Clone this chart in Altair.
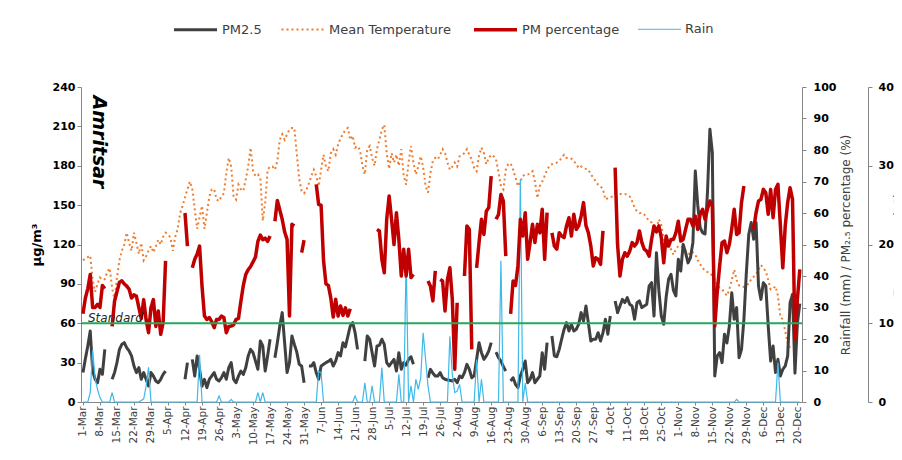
import altair as alt
import pandas as pd

FONT = "DejaVu Sans"

# ---- data (day 0 = 1-Mar, day 295 = 21-Dec); None = no data ----
pm25 = [
    22.4, 33, 42.7, 54.1, 24, 17.3, 14.7, 24.9, 21.1, 40.1,
    None, None, 17.3, 22.4, 30, 40, 43.9, 45.2, 41.4, 38.9,
    35.1, 27.4, 22.4, 26.2, 17.3, 22.4, 17.3, 12.2, 22.4, 19.8,
    16.0, 14.7, 17.3, 21.1, 23.6, None, None, None, None, None,
    None, None, 17.3, 30.0, None, 32.5, 19.8, 35.1, 24.9, 12,
    17.3, 10.9, 17.3, 19.8, 22.4, 17.3, 16, 18.5, 22.4, 17.3,
    26.2, 30, 17.3, 14.7, 19.8, 23.6, 21, 26.2, 35.1, 40.1,
    37.6, 31.2, 24.9, 46.5, 42.7, 23.6, 35, 47.8, None, 33.8,
    45.2, 57.9, 68.1, 45, 22.4, 30, 50.3, 43.9, 38, 28.7,
    27.4, 14.7, None, 27.4, 27.4, 30, 22.4, 17.3, 27.4, 28.7,
    30, 31, 32.5, 27.4, 31.2, 37.6, 35.1, 45.2, 42, 50,
    57.9, 60.5, 52.8, 40.1, None, None, 31.2, 50.3, 47.8, 37.6,
    27.4, 42.7, 43.2, 47.8, 43.9, 30.0, 27.4, 30, 32.5, 23.6,
    37.6, 24.9, 30, 28, 32.5, 34.5, 28.7, None, None, None,
    None, None, 18.5, 24.9, 22, 19.8, 19.8, 22.4, 18.5, 17.3,
    16.8, 16.5, 16.0, 17.3, 14.7, 19.8, 18.5, 22.4, 28.7, 24.9,
    18.5, 20, 32.5, 45.2, 37.6, 32.5, 35.1, 38.9, 45.2, None,
    38, 33.8, 31.2, 27, 23.6, None, 16, 18.5, 13.5, 10.9,
    19.8, 24.9, 31.2, 14.7, 17.3, 22.4, 14.7, 17.3, 19.8, 37.6,
    25, 45.2, None, 50.3, 35.1, 34.5, 40.1, 48, 55.4, 60.5,
    54.1, 59.2, 54.1, 55.4, 59.2, 68.1, 61.7, 73.2, 60, 46.5,
    47.8, 47.8, 52.8, 46.5, 52.8, 63, 51.6, 65.5, None, 77.0,
    68.1, 73.2, 78.2, 75.7, 79.5, 74.4, 73.2, 63.0, 75.7, 77.0,
    71.9, 73.2, 74.4, 88.4, 90.9, 65.5, 113.8, 85, 65.5, 59.2,
    80, 93.5, 97.3, 85, 80.8, 108.7, 99.8, 120.1, 113.8, 106,
    110, 121.4, 176, 150, 132.8, 129, 128, 159.5, 207.8, 190,
    19.8, 35, 37.6, 30, 51.6, 45, 57.9, 83.3, 63, 71.9,
    33.8, 40, 63, 98.6, 127.8, 136.7, 124, 136.7, 88.4, 78.2,
    90.9, 88.4, 57.9, 31.2, 42.7, 22.4, 32.5, 19.8, 24.9, 27.4,
    35.1, 75.7, 82, 22, 60, 75,
]

pm_pct = [
    28, 33, 36, 40.5, 30, 30, 31, 30, 37, 36,
    None, None, 24, 32, 35, 38, 38.5, 37.5, 36.8, 35.8,
    33, 34, 33.6, 30, 26.5, 32.5, 26, 22, 30, 32.5,
    24, 28.9, 21.5, 25.2, 44.8, None, None, None, None, None,
    None, None, 60, 49.5, None, 42.6, 45.3, 47, 49.5, 36.8,
    27.3, 26.2, 26.8, 25.5, 23.6, 26.2, 26.2, 27.3, 26.8, 22,
    24, 24.1, 24.5, 26.2, 26.5, 32, 37, 40.5, 42, 43,
    44.5, 46, 51, 53, 51.5, 52, 51, 52.7, None, 57.4,
    64, 61, 58, 54, 51.6, 27.3, 56.4, 55.9, None, None,
    47.4, 51.4, None, None, None, None, 69.1, 62.7, 62.5, 45,
    37.5, 37, 33, 27, 32.6, 27.3, 30.5, 27.5, 29.9, 27.3,
    29.6, None, None, None, None, None, None, None, None, None,
    None, 54.8, 54.3, 45.3, 41.0, 58.0, 65.4, 58.0, 50.0, 60.1,
    51.6, 40.0, 48.5, 40.0, 48.5, 39.5, 40.5, None, None, None,
    None, None, 38.4, 36.8, 32.1, 41.6, None, 38.9, 38.4, 28.9,
    38.9, 42.6, 32.6, 10.4, 31.5, None, None, 40.0, 55.9, 54.8,
    16.7, None, 42.6, 50.6, 58.0, 53.2, 60.6, 61.7, 71.7, None,
    58, 59.5, 65.9, 63.8, 46.3, None, 28, 38.4, 37, 43.2,
    58, 52.7, 60.1, 45.3, 50.6, 56.4, 50.6, 56.4, 53.7, 61.2,
    45.3, 60.1, None, 53.7, 49.5, 48.5, 53.7, 52.7, 52.2, 55.9,
    58.5, 52.7, 59.6, 54.8, 55.9, 59, 63.3, 56, 53.7, 49.5,
    43.2, 45.8, 45.3, 43.7, 54.3, None, None, None, None, 74.4,
    50, 40.0, 45.3, 47.4, 46.3, 47.9, 50.6, 49.5, 50.6, 54.3,
    50.6, 48.5, 47.9, 46.3, 51.6, 55.9, 54, 55.9, 52.2, 44.2,
    52.7, 49.5, 51.6, 51.6, 53.7, 57.4, 51.1, 51.6, 54.8, 58,
    58, 55.9, 59, 54.8, 59.6, 61.2, 58, 61.2, 63.8, 62.2,
    24.1, 34.7, 43.2, 50.6, 51.1, 47.4, 50, 55, 61.2, 53.2,
    53.7, 63.3, 68.6, None, None, None, 54.8, 60.1, 63.8, 64.3,
    67.5, 66.4, 59.6, 67.5, 58.5, 67.5, 69.1, 55.9, 42.6, 55.9,
    63.3, 68, 64.3, 19.9, 32.6, 42.1,
]

temp = [
    18.0, 18.2, 18.4, 18.6, 15.5, 14.0, 15.0, 15.8, 15.5, 15.6,
    16.5, 17.0, 14.5, 13.0, 15.8, 18.0, 19.2, 20.0, 21.5, 20.2,
    19.2, 21.5, 20.2, 18.8, 20.2, 18.0, 18.5, 19.2, 19.8, 19.0,
    19.8, 20.6, 20.0, 21.0, 21.5, 21.3, 20.9, 19.2, 21.0, 22.0,
    24.0, 24.9, 26.0, 27.0, 28.0, 27.0, 24.5, 22.0, 23.5, 24.9,
    22.0, 24.0, 26.1, 27.0, 27.0, 25.7, 25.5, 26.1, 26.5, 29.1,
    31.0, 29.9, 26.1, 25.7, 27.6, 27.0, 26.8, 28.3, 29.9, 32.3,
    29.3, 28.7, 28.9, 28.5, 23.0, 25.3, 29.5, 29.9, 29.9, 29.5,
    30.6, 33.3, 34.0, 33.3, 34.0, 34.6, 34.8, 34.8, 31.5, 28.3,
    26.8, 26.5, 27.0, 27.8, 28.7, 29.5, 28.7, 27.4, 29.5, 31.4,
    29.9, 29.3, 31.6, 32.1, 31.4, 32.7, 33.5, 34.0, 34.6, 34.8,
    33.3, 33.8, 32.3, 32.5, 32.0, 30.0, 28.9, 32.1, 32.5, 31.0,
    30.0, 32.1, 33.3, 34.6, 35.2, 31.6, 29.6, 31.6, 30.4, 31.4,
    30.0, 32.1, 28.7, 27.6, 30.4, 32.5, 30.4, 28.9, 29.9, 31.2,
    29.8, 27.4, 26.6, 29.1, 30.6, 31.0, 30.8, 31.4, 32.1, 31.6,
    30.4, 29.5, 29.9, 30.4, 29.9, 31.2, 31.4, 31.6, 32.1, 31.4,
    30.8, 29.7, 29.3, 31.3, 32.3, 31.6, 30.2, 31.0, 31.4, 31.2,
    30.8, 29.2, 27.4, 27.0, 29.5, 30.2, 30.3, 29.5, 28.5, 27.4,
    28.0, 28.7, 28.9, 28.9, 29.0, 29.3, 28.0, 25.9, 27.4, 28.0,
    28.7, 29.5, 30.0, 30.2, 30.3, 30.4, 30.6, 31.0, 31.4, 31.0,
    31.0, 30.9, 30.6, 30.2, 29.7, 29.9, 29.7, 29.6, 29.5, 28.9,
    28.5, 28.0, 27.6, 27.4, 27.0, 25.7, 25.9, 26.0, 26.1, 26.4,
    26.4, 26.4, 26.4, 26.4, 26.3, 26.1, 25.5, 24.7, 24.2, 24.0,
    24.0, 23.8, 23.4, 23.0, 22.8, 22.1, 22.0, 23.2, 22.5, 20.6,
    19.6, 19.8, 19.4, 18.7, 19.4, 19.8, 19.8, 19.6, 19.2, 18.9,
    18.7, 19.0, 18.7, 18.0, 17.5, 17.0, 16.7, 16.5, 16.4, 16.0,
    15.6, 14.8, 14.5, 14.3, 13.9, 13.5, 14.3, 15.5, 16.8, 15.5,
    14.8, 14.7, 14.6, 14.9, 15.0, 15.6, 15.9, 16.2, 16.8, 17.4,
    17.0, 16.6, 15.5, 14.3, 14.4, 14.7, 13.5, 10.8, 10.5, 9.0,
    7.5, 6.9, None, None, None, None,
]

# rainy days (all other days 0 mm)
rain_days = [3, 4, 5, 6, 7, 12, 24, 25, 26, 27, 48, 56, 61, 72, 74, 97, 98,
             112, 116, 119, 123, 130, 133, 135, 137, 138, 139, 140, 141, 142,
             151, 152, 153, 154, 155, 162, 164, 172, 180, 182, 269, 286]
rain_mm = [3, 16.5, 7.5, 4, 1.4, 3, 0.5, 1, 5, 11, 15, 1.9, 0.8, 3, 3, 9.8, 9.3,
           1.9, 6.1, 5.1, 10.9, 8.8, 45.8, 5.1, 7.2, 4, 7.7, 22, 13.5, 5.1,
           20.9, 8.8, 3, 3.5, 5.6, 13.5, 7.2, 44.8, 70.7, 6, 0.8, 12.5]

N_DAYS = 296
tick_days = list(range(0, 295, 7))
series_order = ["PM2.5", "Mean Temperature", "PM percentage", "Rain"]
series_colors = ["#404040", "#ED7D31", "#C00000", "#3DB9EA"]
series_dash = [[1, 0], [2, 3], [1, 0], [1, 0]]
series_width = [3, 2, 3.5, 1.2]

assert len(pm25) == N_DAYS and len(pm_pct) == N_DAYS and len(temp) == N_DAYS

rain = [0.0] * N_DAYS
for d, mm in zip(rain_days, rain_mm):
    rain[d] = mm


def to_rows(name, values):
    rows, seg, open_seg = [], 0, False
    for d, v in enumerate(values):
        if v is None:
            if open_seg:
                seg += 1
                open_seg = False
            continue
        rows.append({"day": d, "value": v, "series": name, "seg": f"{name}-{seg}"})
        open_seg = True
    return rows


df_pm25 = pd.DataFrame(to_rows("PM2.5", pm25))
df_pct = pd.DataFrame(to_rows("PM percentage", pm_pct))
df_rain = pd.DataFrame(to_rows("Rain", rain))
df_temp = pd.DataFrame(to_rows("Mean Temperature", temp))

legend = alt.Legend(
    orient="none", legendX=91, legendY=-81, direction="horizontal", title=None,
    symbolType="stroke", symbolSize=1850, labelFont=FONT, labelFontSize=13,
    labelColor="#404040", labelOffset=3, columnPadding=15, padding=0, labelLimit=0,
)
color = alt.Color("series:N", scale=alt.Scale(domain=series_order, range=series_colors), legend=legend)
dash = alt.StrokeDash("series:N", scale=alt.Scale(domain=series_order, range=series_dash), legend=legend)
width = alt.StrokeWidth("series:N", scale=alt.Scale(type="ordinal", domain=series_order, range=series_width), legend=legend)

x = alt.X(
    "day:Q",
    scale=alt.Scale(domain=[-0.8, 295.9], nice=False, zero=False),
    axis=alt.Axis(
        values=tick_days, title=None, grid=False, labelAngle=270,
        labelExpr="timeFormat(datetime(2019, 2, 1 + datum.value), '%-d-%b')",
        labelFont=FONT, labelFontSize=10.5, labelColor="#404040", labelPadding=1,
        tickSize=3, tickColor="#868686", domainColor="#868686",
        labelOverlap=False, labelFlush=False,
    ),
)

axis_common = dict(grid=False, labelFont=FONT, labelFontSize=11, labelFontWeight="bold",
                   labelColor="black", tickSize=4, tickColor="#868686", domainColor="#868686",
                   titleFont=FONT)

y_left = alt.Y(
    "value:Q", scale=alt.Scale(domain=[0, 240], nice=False),
    axis=alt.Axis(orient="left", values=list(range(0, 241, 30)), title="µg/m³",
                  titleFontSize=13, titleFontWeight="bold", titleColor="black",
                  labelPadding=2, titlePadding=9, **axis_common),
)
y_pct = alt.Y(
    "value:Q", scale=alt.Scale(domain=[0, 100], nice=False),
    axis=alt.Axis(orient="right", values=list(range(0, 101, 10)),
                  title="Rainfall (mm) / PM₂.₅ percentage (%)", titleAngle=270,
                  titleFontSize=12, titleFontWeight="normal", titleColor="#404040",
                  labelPadding=7, titlePadding=17, **axis_common),
)
y_temp = alt.Y(
    "value:Q", scale=alt.Scale(domain=[0, 40], nice=False),
    axis=alt.Axis(orient="right", offset=66, values=list(range(0, 41, 10)),
                  title="Temperature (°C)", titleAngle=270,
                  titleFontSize=12, titleFontWeight="normal", titleColor="#404040",
                  labelPadding=6, titlePadding=12, **axis_common),
)
y_std = alt.Y("value:Q", scale=alt.Scale(domain=[0, 240], nice=False), axis=None)

temp_line = alt.Chart(df_temp).mark_line().encode(
    x=x, y=y_temp, color=color, strokeDash=dash, strokeWidth=width, detail="seg:N")

pm25_line = alt.Chart(df_pm25).mark_line(strokeJoin="round").encode(
    x=x, y=y_left, color=color, strokeDash=dash, strokeWidth=width, detail="seg:N")

rain_line = alt.Chart(df_rain).mark_line().encode(
    x=x, y=y_pct, color=color, strokeDash=dash, strokeWidth=width, detail="seg:N")
pct_line = alt.Chart(df_pct).mark_line(strokeJoin="round").encode(
    x=x, y=y_pct, color=color, strokeDash=dash, strokeWidth=width, detail="seg:N")
right_layer = alt.layer(rain_line, pct_line)

std_df = pd.DataFrame({"value": [60], "label": ["Standard"]})
std_rule = alt.Chart(std_df).mark_rule(color="#22A95B", strokeWidth=2).encode(y=y_std)
std_text = alt.Chart(std_df).mark_text(
    align="left", baseline="alphabetic", dy=-1, font=FONT, fontSize=12,
    fontStyle="italic", color="#262626",
).encode(x=alt.value(7), y=y_std, text="label:N")
city = alt.Chart(pd.DataFrame({"label": ["Amritsar"]})).mark_text(
    angle=90, font=FONT, fontSize=19, fontWeight="bold", fontStyle="italic",
    color="black", align="center", baseline="middle",
).encode(x=alt.value(18), y=alt.value(55), text="label:N")
std_layer = alt.layer(std_rule, std_text, city)

chart = alt.layer(temp_line, pm25_line, right_layer, std_layer).resolve_scale(
    y="independent"
).properties(
    width=721, height=315,
    autosize=alt.AutoSizeParams(type="none"),
    padding={"left": 73, "top": 79, "right": 92, "bottom": 44},
).configure_view(stroke=None)

chart.save("out.html", embed_options={"renderer": "svg", "actions": False})
